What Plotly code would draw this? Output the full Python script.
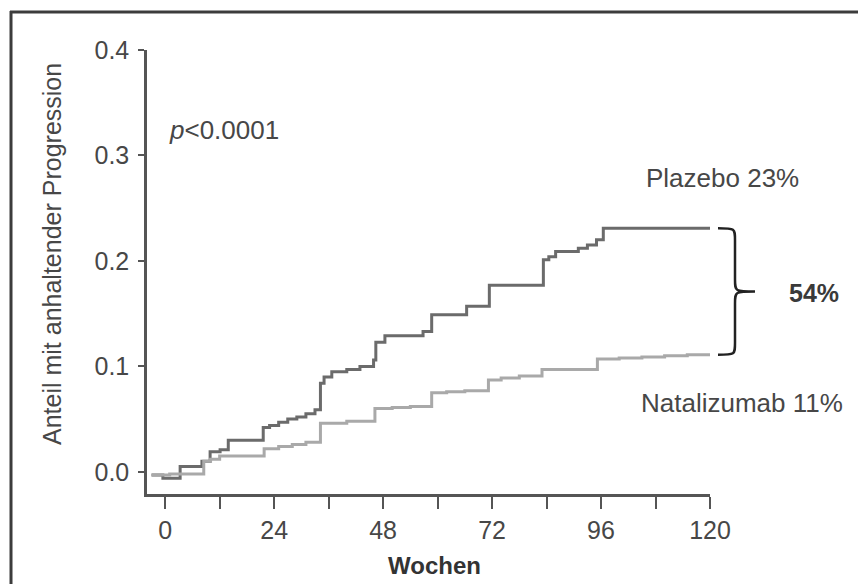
import plotly.graph_objects as go

# ---- data (weeks, proportion with sustained progression) ----
plazebo_weeks = [-3, -0.5, 3.3, 8.1, 9.9, 12.1, 13.9, 21.6, 23, 25, 27, 29, 31, 33, 34.2, 35,
                 36.7, 40, 42.9, 45.9, 46.4, 48.4, 56.8, 58.7, 66.4, 71.4, 83.3, 84.5, 86, 91,
                 93, 95, 96.5, 120]
plazebo_vals = [-0.003, -0.006, 0.005, 0.010, 0.019, 0.021, 0.030, 0.042, 0.044, 0.047, 0.050,
                0.052, 0.055, 0.059, 0.084, 0.090, 0.095, 0.097, 0.100, 0.106, 0.123, 0.129,
                0.133, 0.149, 0.157, 0.177, 0.201, 0.204, 0.209, 0.212, 0.215, 0.220, 0.231,
                0.231]

natal_weeks = [-3, 1, 8.5, 10, 12, 21.8, 25, 28, 31, 34.2, 40, 46.2, 50, 54, 58.7, 62, 66,
               71.2, 74, 78, 83, 88, 95.2, 100, 105, 110, 115, 120]
natal_vals = [-0.003, -0.002, 0.010, 0.012, 0.015, 0.022, 0.024, 0.026, 0.028, 0.046, 0.048,
              0.060, 0.061, 0.062, 0.075, 0.076, 0.077, 0.087, 0.089, 0.091, 0.097, 0.097,
              0.107, 0.108, 0.109, 0.110, 0.111, 0.111]

x_tickvals = [0, 12, 24, 36, 48, 60, 72, 84, 96, 108, 120]
x_ticktext = ["0", "", "24", "", "48", "", "72", "", "96", "", "120"]
y_tickvals = [0.0, 0.1, 0.2, 0.3, 0.4]
y_ticktext = ["0.0", "0.1", "0.2", "0.3", "0.4"]

labels = {"plazebo": "Plazebo 23%", "natal": "Natalizumab 11%", "diff": "54%",
          "p": "<i>p</i>&lt;0.0001", "ytitle": "Anteil mit anhaltender Progression",
          "xtitle": "Wochen"}

XR = [-4, 120]
YR = [-0.021, 0.4]

# the page body has an 8px margin: the figure is drawn 8px in from the window corner
OFF = 8
W, H = 866 - OFF, 584 - OFF
# plot area in window pixels: x 147..710, y 50..494
ML, MT = 147 - OFF, 50 - OFF
MR = W - (710 - OFF)
MB = H - (494 - OFF)
PW, PH = W - ML - MR, H - MT - MB

def px_x(px):
    # window pixel -> paper x
    return (px - OFF - ML) / PW

def px_y(py):
    # window pixel -> paper y
    return (H - MB - (py - OFF)) / PH

def data_y(v):
    return (v - YR[0]) / (YR[1] - YR[0])

FONT = "Liberation Sans, Arial, sans-serif"
TXT = "#474747"
AX = "#555555"
FS = 25

fig = go.Figure()
fig.add_trace(go.Scatter(x=plazebo_weeks, y=plazebo_vals, mode="lines",
                         line=dict(shape="hv", color="#6b6b6b", width=3), showlegend=False))
fig.add_trace(go.Scatter(x=natal_weeks, y=natal_vals, mode="lines",
                         line=dict(shape="hv", color="#a9a9a9", width=3), showlegend=False))

fig.update_layout(
    width=W, height=H, margin=dict(l=ML, r=MR, t=MT, b=MB),
    paper_bgcolor="white", plot_bgcolor="white",
    font=dict(family=FONT, size=FS, color=TXT),
    xaxis=dict(range=XR, tickvals=x_tickvals, ticktext=x_ticktext, showgrid=False,
               zeroline=False, showline=True, linecolor=AX, linewidth=2.5,
               ticks="outside", ticklen=12, tickwidth=2, tickcolor=AX,
               tickfont=dict(size=FS, color=TXT)),
    yaxis=dict(range=YR, tickvals=y_tickvals, ticktext=y_ticktext, showgrid=False,
               zeroline=False, showline=True, linecolor=AX, linewidth=2.5,
               ticks="outside", ticklen=6, tickwidth=2, tickcolor=AX,
               ticklabelstandoff=4, tickfont=dict(size=FS, color=TXT)),
)

# outer frame (top and left edges)
fig.add_shape(type="line", xref="paper", yref="paper", x0=px_x(10), x1=px_x(880),
              y0=px_y(12), y1=px_y(12), line=dict(color="#3c3c3c", width=3))
fig.add_shape(type="line", xref="paper", yref="paper", x0=px_x(11), x1=px_x(11),
              y0=px_y(11), y1=px_y(600), line=dict(color="#3c3c3c", width=3))

# curly brace between end values
top = data_y(plazebo_vals[-1])
bot = data_y(natal_vals[-1])
mid = (top + bot) / 2
x0 = px_x(718)
xv = px_x(735)
xt = px_x(755)
dy = 12 / PH
path = (f"M {x0},{top} C {xv},{top} {xv},{top} {xv},{top - dy} "
        f"L {xv},{mid + dy} C {xv},{mid} {xv},{mid} {xt},{mid} "
        f"C {xv},{mid} {xv},{mid} {xv},{mid - dy} "
        f"L {xv},{bot + dy} C {xv},{bot} {xv},{bot} {x0},{bot}")
fig.add_shape(type="path", xref="paper", yref="paper", path=path,
              line=dict(color="#222222", width=2.5))

ann = [
    dict(text=labels["p"], x=px_x(167), y=px_y(130), xanchor="left", yanchor="middle",
         font=dict(size=26, color=TXT)),
    dict(text=labels["plazebo"], x=px_x(644), y=px_y(178), xanchor="left", yanchor="middle",
         font=dict(size=26, color=TXT)),
    dict(text=labels["natal"], x=px_x(639), y=px_y(403), xanchor="left", yanchor="middle",
         font=dict(size=26, color=TXT)),
    dict(text="<b>" + labels["diff"] + "</b>", x=px_x(787), y=px_y(293), xanchor="left",
         yanchor="middle", font=dict(size=25, color="#3a3a3a")),
    dict(text=labels["ytitle"], x=px_x(52), y=px_y(254), textangle=-90, xanchor="center",
         yanchor="middle", font=dict(size=25, color=TXT)),
    dict(text="<b>" + labels["xtitle"] + "</b>", x=px_x(434), y=px_y(565), xanchor="center",
         yanchor="middle", font=dict(size=24, color="#333333")),
]
for a in ann:
    fig.add_annotation(xref="paper", yref="paper", showarrow=False, **a)

fig.write_html("out.html")
